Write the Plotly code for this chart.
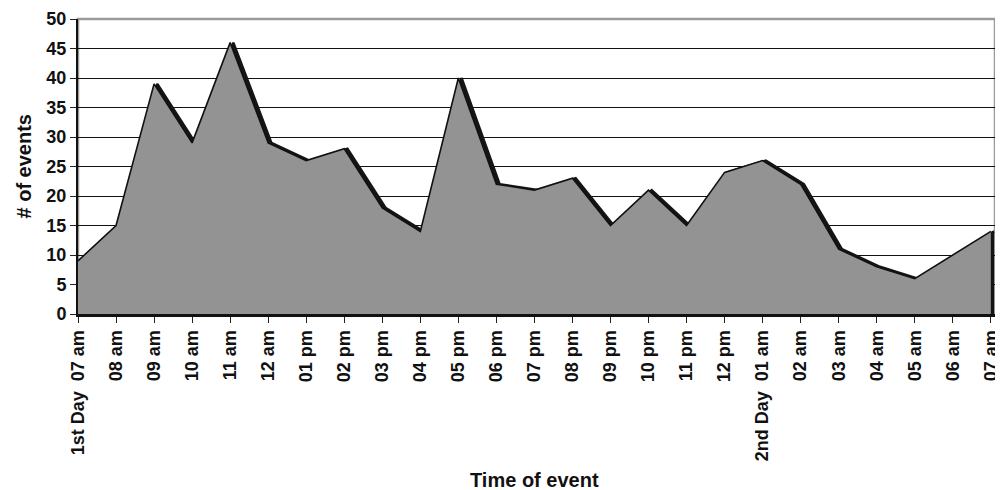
import plotly.graph_objects as go

hours = ["07 am", "08 am", "09 am", "10 am", "11 am", "12 am", "01 pm", "02 pm",
         "03 pm", "04 pm", "05 pm", "06 pm", "07 pm", "08 pm", "09 pm", "10 pm",
         "11 pm", "12 pm", "01 am", "02 am", "03 am", "04 am", "05 am", "06 am", "07 am"]
day_marks = {0: "1st Day", 18: "2nd Day"}
events = [9, 15, 39, 29, 46, 29, 26, 28, 18, 14, 40, 22, 21, 23, 15, 21, 15, 24,
          26, 22, 11, 8, 6, 10, 14]

idx = list(range(len(hours)))
ticktext = [(day_marks[i] + "  " + h) if i in day_marks else h for i, h in enumerate(hours)]

font_family = "Liberation Sans, Arial, sans-serif"

fig = go.Figure()
# shadow (3D effect), drawn on a slightly shifted base axis
fig.add_trace(go.Scatter(x=idx, y=events, mode="lines", fill="tozeroy",
                         fillcolor="#151515", line=dict(color="#151515", width=2.5),
                         xaxis="x", hoverinfo="skip", showlegend=False))
# main area on overlay axis carrying the ticks
fig.add_trace(go.Scatter(x=idx, y=events, mode="lines", fill="tozeroy",
                         fillcolor="#939393", line=dict(color="#111111", width=1.6),
                         xaxis="x2", showlegend=False))

n = len(hours) - 1
fig.update_layout(
    width=995, height=482,
    margin=dict(l=70, r=8, t=11, b=176, autoexpand=False),
    paper_bgcolor="white", plot_bgcolor="white",
    font=dict(family=font_family, color="#111111"),
    xaxis=dict(range=[-0.085, n + 0.025], showticklabels=False, ticks="",
               showgrid=False, zeroline=False, showline=False, automargin=False),
    xaxis2=dict(range=[0, n + 0.11], overlaying="x", side="bottom",
                tickmode="array", tickvals=idx, ticktext=ticktext,
                tickangle=-90, ticks="outside", ticklen=6, tickcolor="#222",
                tickfont=dict(size=18, weight="bold", family=font_family),
                showgrid=False, zeroline=False, showline=True, linecolor="#111",
                linewidth=3, automargin=False),
    yaxis=dict(range=[0, 50], dtick=5, ticks="outside", ticklen=6, tickcolor="#222",
               tickfont=dict(size=18, weight="bold", family=font_family),
               showgrid=True, gridcolor="#111", gridwidth=1, zeroline=False,
               showline=True, linecolor="#111", linewidth=2, automargin=False),
    shapes=[dict(type="rect", xref="paper", yref="paper", x0=0, x1=1, y0=0, y1=1,
                 line=dict(color="#9a9a9a", width=2.5), layer="between")],
    annotations=[
        dict(text="Time of event", xref="paper", yref="paper", x=0.498, y=-0.562,
             xanchor="center", yanchor="middle", showarrow=False,
             font=dict(size=20, weight="bold", family=font_family)),
        dict(text="# of events", xref="paper", yref="paper", x=-0.0589, y=0.5,
             xanchor="center", yanchor="middle", textangle=-90, showarrow=False,
             font=dict(size=20, weight="bold", family=font_family)),
    ],
)

fig.write_html("out.html")
